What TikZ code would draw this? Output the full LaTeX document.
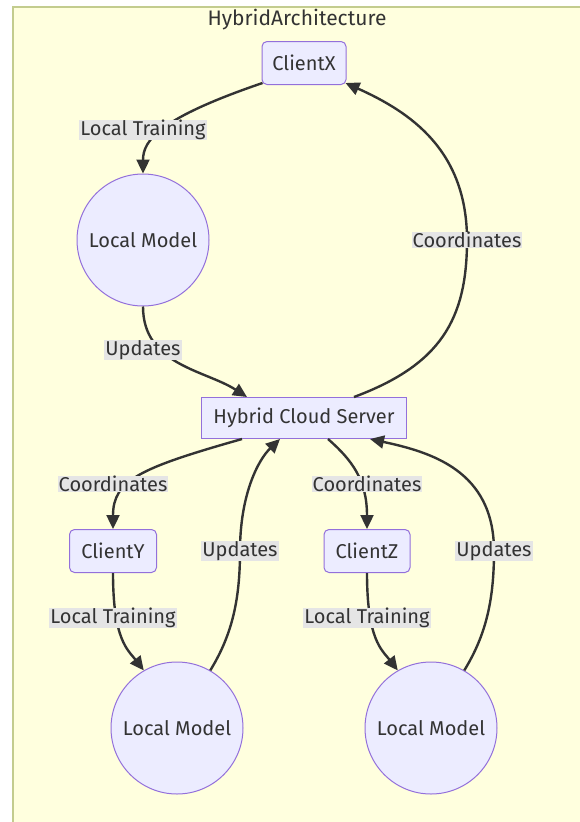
\documentclass[tikz,border=0pt]{standalone}
\usepackage{fontspec}
\setmainfont{Fira Sans}
\usetikzlibrary{arrows.meta}
\definecolor{clfill}{HTML}{FFFFDE}
\definecolor{clline}{HTML}{C3CC8E}
\definecolor{nfill}{HTML}{ECECFF}
\definecolor{nline}{HTML}{9370DB}
\definecolor{txt}{HTML}{333333}
\definecolor{lbl}{HTML}{E5E5E5}
\begin{document}
\begin{tikzpicture}[x=1pt,y=-1pt,
  txtfont/.style={font=\fontsize{20}{24}\selectfont},
  box/.style={draw=nline, fill=nfill, line width=1pt, text=txt, txtfont, rounded corners=5pt, minimum height=43pt, inner xsep=2pt},
  sqbox/.style={box, rounded corners=0pt, minimum height=41pt},
  model/.style={circle, draw=nline, fill=nfill, line width=1pt, text=txt, txtfont, minimum size=132pt, inner sep=0pt},
  elabel/.style={fill=lbl, text=txt, txtfont, inner xsep=1pt, inner ysep=0.5pt},
  edge/.style={draw=txt, line width=2.4pt, -{Triangle[length=14pt,width=13pt]}}
]
\useasboundingbox (0,0) rectangle (580,822);
\clip (0,0) rectangle (580,822);
\fill[white] (0,0) rectangle (580,822);
\draw[fill=clfill, draw=clline, line width=2pt] (13,7) rectangle (610,850);
\node[text=txt, font=\fontsize{21}{25}\selectfont] (title) at (297,20) {HybridArchitecture};

\node[box, minimum width=84pt] (cx) at (304,63) {ClientX};
\node[model] (lm1) at (143,240) {Local Model};
\node[sqbox, minimum width=205pt] (srv) at (304,418) {Hybrid Cloud Server};
\node[box, minimum width=87pt] (cy) at (113,551) {ClientY};
\node[box, minimum width=86pt] (cz) at (367,551) {ClientZ};
\node[model] (lm2) at (177,728) {Local Model};
\node[model] (lm3) at (431,728) {Local Model};

% edges
\draw[edge] ([xshift=1pt,yshift=2pt]cx.south west) .. controls (160,118) and (143,140) .. (lm1.north);
\draw[edge] (lm1.south) .. controls (143,365) and (205,370) .. ([xshift=46pt]srv.north west);
\draw[edge] ([xshift=50pt]srv.north) .. controls (440,365) and (467,320) .. (467,240)
   .. controls (467,150) and (410,112) .. ([xshift=-1pt,yshift=2pt]cx.south east);
\draw[edge] ([xshift=-62pt]srv.south) .. controls (140,468) and (113,480) .. (cy.north);
\draw[edge] (cy.south) .. controls (113,640) and (128,650) .. (lm2.120);
\draw[edge] (lm2.60) .. controls (232,635) and (240,600) .. (240,551)
   .. controls (240,495) and (258,460) .. ([xshift=-24pt]srv.south);
\draw[edge] ([xshift=24pt]srv.south) .. controls (352,460) and (367,480) .. (cz.north);
\draw[edge] (cz.south) .. controls (367,640) and (382,650) .. (lm3.120);
\draw[edge] (lm3.60) .. controls (486,635) and (494,600) .. (494,551)
   .. controls (494,470) and (430,452) .. ([xshift=66pt]srv.south);

% edge labels
\node[elabel] (l1) at (143,130) {Local Training};
\node[elabel] (l2) at (467,240) {Coordinates};
\node[elabel] (l3) at (143,350) {Updates};
\node[elabel] (l4) at (113,484) {Coordinates};
\node[elabel] (l5) at (367,484) {Coordinates};
\node[elabel] (l6) at (240,551) {Updates};
\node[elabel] (l7) at (113,618) {Local Training};
\node[elabel] (l8) at (494,551) {Updates};
\node[elabel] (l9) at (367,618) {Local Training};
\end{tikzpicture}
\end{document}
